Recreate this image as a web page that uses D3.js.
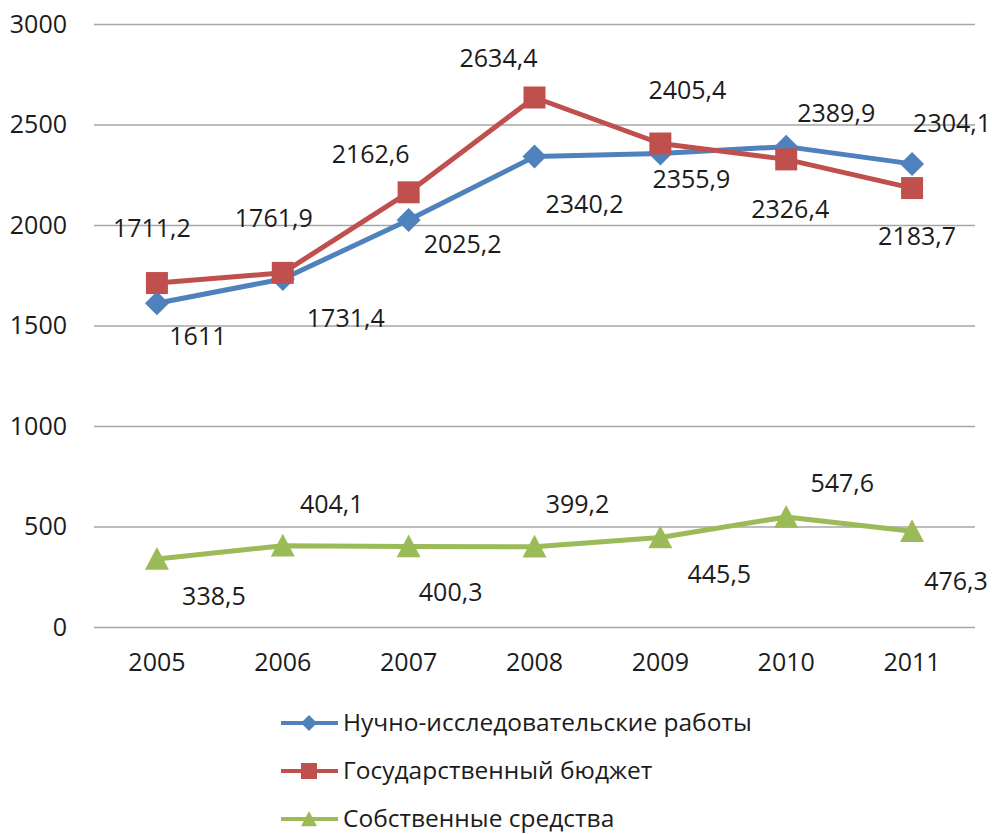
<!DOCTYPE html>
<html>
<head>
<meta charset="utf-8">
<script src="https://cdn.jsdelivr.net/npm/d3@7"></script>
<style>
  body { margin: 0; background: #fff; }
  svg { font-family: "Open Sans", sans-serif; }
</style>
</head>
<body>
<svg width="992" height="834"></svg>
<script>
// data
const years = ["2005", "2006", "2007", "2008", "2009", "2010", "2011"];
const researchValues = [1611, 1731.4, 2025.2, 2340.2, 2355.9, 2389.9, 2304.1];
const budgetValues = [1711.2, 1761.9, 2162.6, 2634.4, 2405.4, 2326.4, 2183.7];
const ownFundsValues = [338.5, 404.1, 400.3, 399.2, 445.5, 547.6, 476.3];
const seriesNames = ["Нучно-исследовательские работы", "Государственный бюджет", "Собственные средства"];
const yTicks = [0, 500, 1000, 1500, 2000, 2500, 3000];

// where each data label sits relative to its marker (center x, baseline y)
const labelOffsets = [
  [[41, 42], [63, 48], [54, 33], [50, 56], [31, 35], [50, -25], [40, -32]],
  [[-5, -46], [-9, -46], [-38, -29], [-36, -30], [27, -45], [4, 59], [5, 57]],
  [[57, 46], [49, -33], [42, 54], [43, -34], [59, 46], [56, -25], [44, 59]]
];

const colors = ["#4f81bd", "#c0504d", "#9bbb59"];
const shapes = ["diamond", "square", "triangle"];
const ink = "#1c1c1c";

const svg = d3.select("svg");

const x = d3.scaleBand().domain(years).range([94, 975]);
const y = d3.scaleLinear().domain([0, 3000]).range([627, 24]);
const cx = d => x(d) + x.bandwidth() / 2;

const fmt = v => String(v).replace(".", ",");

function marker(shape, s) {
  const h = s / 2;
  if (shape === "diamond") return `M0,${-h}L${h},0L0,${h}L${-h},0Z`;
  if (shape === "square") return `M${-h},${-h}H${h}V${h}H${-h}Z`;
  return `M0,${-h}L${h},${h * 0.9}L${-h},${h * 0.9}Z`;
}

// gridlines
svg.append("g")
  .attr("transform", "translate(94,0)")
  .call(d3.axisLeft(y).tickValues(yTicks).tickSize(-(975 - 94)).tickFormat(""))
  .call(g => g.select(".domain").remove())
  .call(g => g.selectAll("line").attr("stroke", "#a6a6a6").attr("stroke-width", 1.5));

// y labels
svg.append("g")
  .attr("transform", "translate(94,0)")
  .call(d3.axisLeft(y).tickValues(yTicks).tickSize(0).tickPadding(27).tickFormat(d3.format("d")))
  .call(g => g.select(".domain").remove())
  .call(g => g.selectAll("text")
    .attr("font-size", 25).attr("font-family", "Open Sans, sans-serif").attr("fill", ink));

// x labels
svg.append("g")
  .attr("transform", "translate(0,627)")
  .call(d3.axisBottom(x).tickSize(0).tickPadding(0))
  .call(g => g.select(".domain").remove())
  .call(g => g.selectAll("text")
    .attr("y", 44).attr("dy", 0)
    .attr("font-size", 25).attr("font-family", "Open Sans, sans-serif").attr("fill", ink));

const series = [researchValues, budgetValues, ownFundsValues].map((vals, i) => ({
  name: seriesNames[i],
  color: colors[i],
  shape: shapes[i],
  points: vals.map((v, j) => ({ year: years[j], value: v, off: labelOffsets[i][j] }))
}));

const line = d3.line().x(d => cx(d.year)).y(d => y(d.value));

const sizes = { diamond: 24, square: 22, triangle: 24 };

series.forEach(s => {
  const g = svg.append("g");
  g.append("path")
    .attr("d", line(s.points))
    .attr("fill", "none")
    .attr("stroke", s.color)
    .attr("stroke-width", 5)
    .attr("stroke-linejoin", "round");
  g.selectAll("path.mk")
    .data(s.points)
    .enter().append("path")
    .attr("class", "mk")
    .attr("transform", d => `translate(${cx(d.year)},${y(d.value)})`)
    .attr("d", marker(s.shape, sizes[s.shape]))
    .attr("fill", s.color);
});

// data labels on top
series.forEach(s => {
  svg.append("g").selectAll("text")
    .data(s.points)
    .enter().append("text")
    .attr("x", d => cx(d.year) + d.off[0])
    .attr("y", d => y(d.value) + d.off[1])
    .attr("text-anchor", "middle")
    .attr("font-size", 25)
    .attr("fill", ink)
    .text(d => fmt(d.value));
});

// legend
const legend = svg.append("g").selectAll("g")
  .data(series)
  .enter().append("g")
  .attr("transform", (d, i) => `translate(281,${723 + i * 48})`);

legend.append("line")
  .attr("x1", 0).attr("x2", 57)
  .attr("stroke", d => d.color)
  .attr("stroke-width", 4);

legend.append("path")
  .attr("transform", "translate(28,0)")
  .attr("d", d => marker(d.shape, 16))
  .attr("fill", d => d.color);

legend.append("text")
  .attr("x", 62)
  .attr("y", 8)
  .attr("font-size", 24.5)
  .attr("fill", ink)
  .text(d => d.name);
</script>
</body>
</html>
